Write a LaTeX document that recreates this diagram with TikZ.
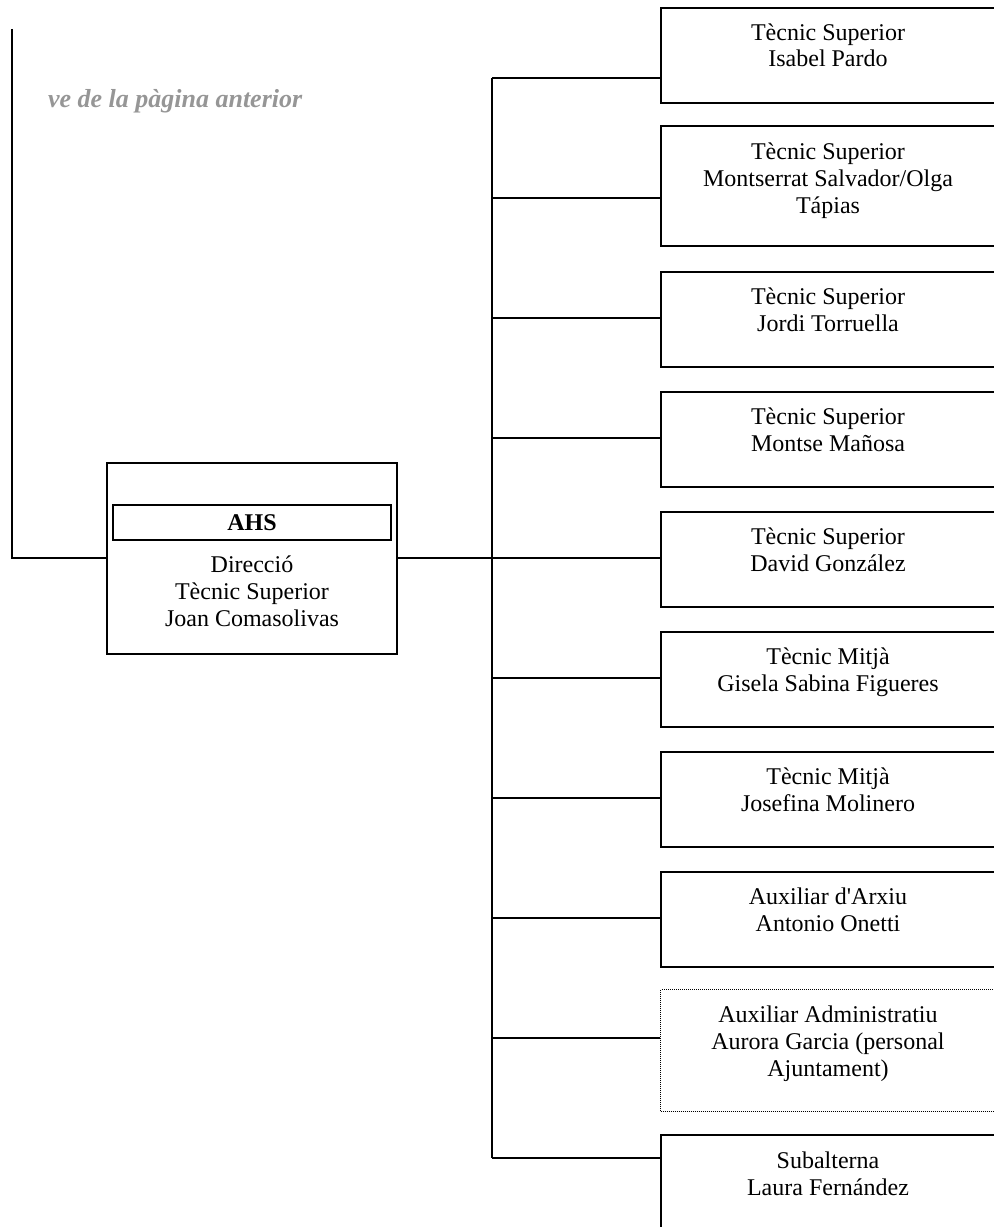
\documentclass[tikz,border=0pt]{standalone}
\usepackage{fontspec}
\setmainfont{Liberation Serif}[Ligatures=TeXOff]
\usetikzlibrary{positioning}
\definecolor{pagegray}{RGB}{150,150,150}

\begin{document}
\begin{tikzpicture}[x=0.75pt, y=-0.75pt, line width=1.5pt,
  staffbox/.style={draw, rectangle, inner sep=0pt, anchor=north west, minimum width=252pt, minimum height=71.25pt},
  stafftext/.style={align=center, anchor=base, inner sep=0pt, font=\fontsize{18}{20}\selectfont}]
\useasboundingbox (0,0) rectangle (993,1227);

% continuation from previous page
\coordinate (cont) at (12,29);
\node[anchor=base west, inner sep=0pt, text=pagegray, font=\fontsize{19.5}{22}\selectfont\bfseries\itshape] (prevpage) at (47,108) {ve de la pàgina anterior};

% AHS head box (text anchored on its last line)
\node[draw, rectangle, inner sep=0pt, minimum width=217.5pt, minimum height=143.25pt] (ahs) at (252,558) {};
\node[draw, rectangle, inner sep=0pt, minimum width=208.5pt, minimum height=26.25pt] (ahstitle) at (252,522.5) {};
\node[stafftext, font=\fontsize{18}{20}\selectfont\bfseries] (ahsname) at (252,530) {AHS};
\node[stafftext] (ahstx) at (252,626) {Direcció\\Tècnic Superior\\Joan Comasolivas};
\draw (cont) |- (ahs.west);

% staff boxes
\node[staffbox] (isabel) at (660,7) {};
\node[stafftext] (isabeltx) at (828,67) {Tècnic Superior\\Isabel Pardo};

\node[staffbox, minimum height=90pt] (montserrat) at (660,125) {};
\node[stafftext] (montserrattx) at (828,213) {Tècnic Superior\\Montserrat Salvador/Olga\\Tápias};

\node[staffbox] (jordi) at (660,271) {};
\node[stafftext] (jorditx) at (828,331) {Tècnic Superior\\Jordi Torruella};

\node[staffbox] (montse) at (660,391) {};
\node[stafftext] (montsetx) at (828,451) {Tècnic Superior\\Montse Mañosa};

\node[staffbox] (david) at (660,511) {};
\node[stafftext] (davidtx) at (828,571) {Tècnic Superior\\David González};

\node[staffbox] (gisela) at (660,631) {};
\node[stafftext] (giselatx) at (828,691) {Tècnic Mitjà\\Gisela Sabina Figueres};

\node[staffbox] (josefina) at (660,751) {};
\node[stafftext] (josefinatx) at (828,811) {Tècnic Mitjà\\Josefina Molinero};

\node[staffbox] (antonio) at (660,871) {};
\node[stafftext] (antoniotx) at (828,931) {Auxiliar d'Arxiu\\Antonio Onetti};

\node[staffbox, minimum height=91.5pt, line width=0.75pt, dash pattern=on 0.75pt off 0.75pt] (aurora) at (660,989) {};
\node[stafftext] (auroratx) at (828,1076) {Auxiliar Administratiu\\Aurora Garcia (personal\\Ajuntament)};

\node[staffbox] (laura) at (660,1134) {};
\node[stafftext] (lauratx) at (828,1195) {Subalterna\\Laura Fernández};

% connectors
\foreach \name [count=\i from 0] in {isabel,montserrat,jordi,montse,david,gisela,josefina,antonio,aurora,laura} {
    \coordinate (j\name) at (492,78+120*\i);
    \draw (j\name) -- (j\name -| \name.west);
}
\draw (jisabel) -- (jlaura);
\draw (ahs.east) -- (jdavid);
\end{tikzpicture}
\end{document}
